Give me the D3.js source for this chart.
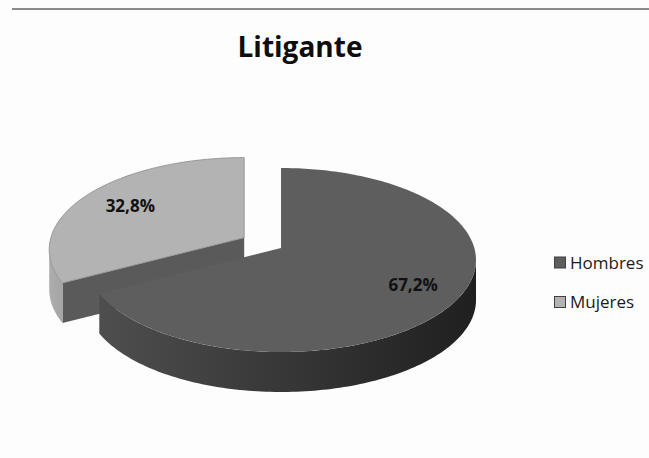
<!DOCTYPE html>
<html>
<head>
<meta charset="utf-8">
<script src="https://cdn.jsdelivr.net/npm/d3@7"></script>
<style>
  html, body { margin: 0; padding: 0; background: #fdfdfd; }
  svg { display: block; font-family: "Open Sans", sans-serif; }
</style>
</head>
<body>
<svg id="chart" width="649" height="458"></svg>
<script>
const categories = ['Hombres', 'Mujeres'];
const values = [67.2, 32.8];
const valueLabels = ['67,2%', '32,8%'];
const exploded = [false, true];

const svg = d3.select('#chart');
const W = 649, H = 458;

// top rule
svg.append('line')
  .attr('x1', 12).attr('x2', W).attr('y1', 9).attr('y2', 9)
  .attr('stroke', '#8a8a8a').attr('stroke-width', 2);

svg.append('text')
  .attr('x', 300).attr('y', 57)
  .attr('text-anchor', 'middle')
  .attr('font-size', 28).attr('font-weight', 'bold')
  .attr('fill', '#0d0d0d')
  .text('Litigante');

// pie geometry
const cx = 281, cy = 260, rx = 195, ry = 92, depth = 40;
const k = -0.13;            // perspective shift of the centre
const explode = 0.22;
const xs = d3.scaleLinear().domain([-1, 1]).range([cx - rx, cx + rx]);
const ys = d3.scaleLinear().domain([-1, 1]).range([cy - ry, cy + ry]);

function proj(a, r, off, dz) {
  const u = r * Math.sin(a), v = -r * Math.cos(a);
  const w = 1 + k * v;
  const xp = u * Math.sqrt(1 - k * k) / w;
  const yp = (v + k) / w;
  return [xs(xp) + off[0], ys(yp) + off[1] + dz];
}

function rim(a0, a1, off, dz) {
  const n = Math.max(2, Math.ceil(Math.abs(a1 - a0) / 0.02));
  return d3.range(n + 1).map(i => proj(a0 + (a1 - a0) * i / n, 1, off, dz));
}

const line = d3.line();
const pie = d3.pie().sort(null)(values);
const silL = Math.acos(k), silR = 2 * Math.PI - Math.acos(k);

const defs = svg.append('defs');
const g1 = defs.append('linearGradient').attr('id', 'sideDark')
  .attr('gradientUnits', 'userSpaceOnUse')
  .attr('x1', 100).attr('x2', 480).attr('y1', 0).attr('y2', 0);
g1.append('stop').attr('offset', 0).attr('stop-color', '#4e4e4e');
g1.append('stop').attr('offset', 1).attr('stop-color', '#1f1f1f');
const g2 = defs.append('linearGradient').attr('id', 'sideLight')
  .attr('gradientUnits', 'userSpaceOnUse')
  .attr('x1', 45).attr('x2', 75).attr('y1', 0).attr('y2', 0);
g2.append('stop').attr('offset', 0).attr('stop-color', '#b0b0b0');
g2.append('stop').attr('offset', 1).attr('stop-color', '#9c9c9c');

const styles = [
  { top: '#5e5e5e', side: 'url(#sideDark)', cut: '#3a3a3a', stroke: 'none' },
  { top: '#b3b3b3', side: 'url(#sideLight)', cut: '#5a5a5a', stroke: '#8c8c8c' }
];

const slices = pie.map((p, i) => {
  const mid = (p.startAngle + p.endAngle) / 2;
  const off = exploded[i]
    ? [explode * rx * Math.sin(mid), -explode * ry * Math.cos(mid)]
    : [0, 0];
  return { p, i, off, mid };
});

// draw the back (exploded) slice first
const order = slices.slice().sort((a, b) => a.off[1] - b.off[1]);
const pieG = svg.append('g');

order.forEach(s => {
  const { p, i, off } = s;
  const st = styles[i];
  const g = pieG.append('g');
  const c0 = proj(0, 0, off, 0), c1 = proj(0, 0, off, depth);

  // cut face at start angle (faces viewer when it lies on the left-front)
  if (p.startAngle > Math.PI && p.startAngle < 2 * Math.PI) {
    const r0 = proj(p.startAngle, 1, off, 0), r1 = proj(p.startAngle, 1, off, depth);
    g.append('path').attr('d', line([c0, r0, r1, c1]) + 'Z').attr('fill', st.cut);
  }
  // cut face at end angle (right-front half)
  if (p.endAngle < Math.PI) {
    const r0 = proj(p.endAngle, 1, off, 0), r1 = proj(p.endAngle, 1, off, depth);
    g.append('path').attr('d', line([c0, r0, r1, c1]) + 'Z').attr('fill', st.cut);
  }
  // outer side
  const b0 = Math.max(p.startAngle, silL), b1 = Math.min(p.endAngle, silR);
  if (b1 > b0) {
    const pts = rim(b0, b1, off, 0).concat(rim(b1, b0, off, depth));
    g.append('path').attr('d', line(pts) + 'Z').attr('fill', st.side);
  }
  // top face
  const topPts = [c0].concat(rim(p.startAngle, p.endAngle, off, 0));
  g.append('path').attr('d', line(topPts) + 'Z')
    .attr('fill', st.top)
    .attr('stroke', st.stroke).attr('stroke-width', 0.8);
});

// value labels
slices.forEach(s => {
  const pt = proj(s.mid, 0.74, s.off, 0);
  svg.append('text')
    .attr('x', pt[0] + 3).attr('y', pt[1] + 7)
    .attr('text-anchor', 'middle')
    .attr('font-size', 17).attr('font-weight', 'bold')
    .attr('fill', '#111')
    .text(valueLabels[s.i]);
});

// legend
const legendY = d3.scalePoint().domain(categories).range([262.5, 302]);
const legend = svg.append('g');
categories.forEach((c, i) => {
  const y = legendY(c);
  legend.append('rect')
    .attr('x', 554.5).attr('y', y - 5.5).attr('width', 11).attr('height', 11)
    .attr('fill', styles[i].top).attr('stroke', '#404040').attr('stroke-width', 1);
  legend.append('text')
    .attr('x', 570).attr('y', y + 6)
    .attr('font-size', 17).attr('fill', '#1a1a1a')
    .text(c);
});
</script>
</body>
</html>
